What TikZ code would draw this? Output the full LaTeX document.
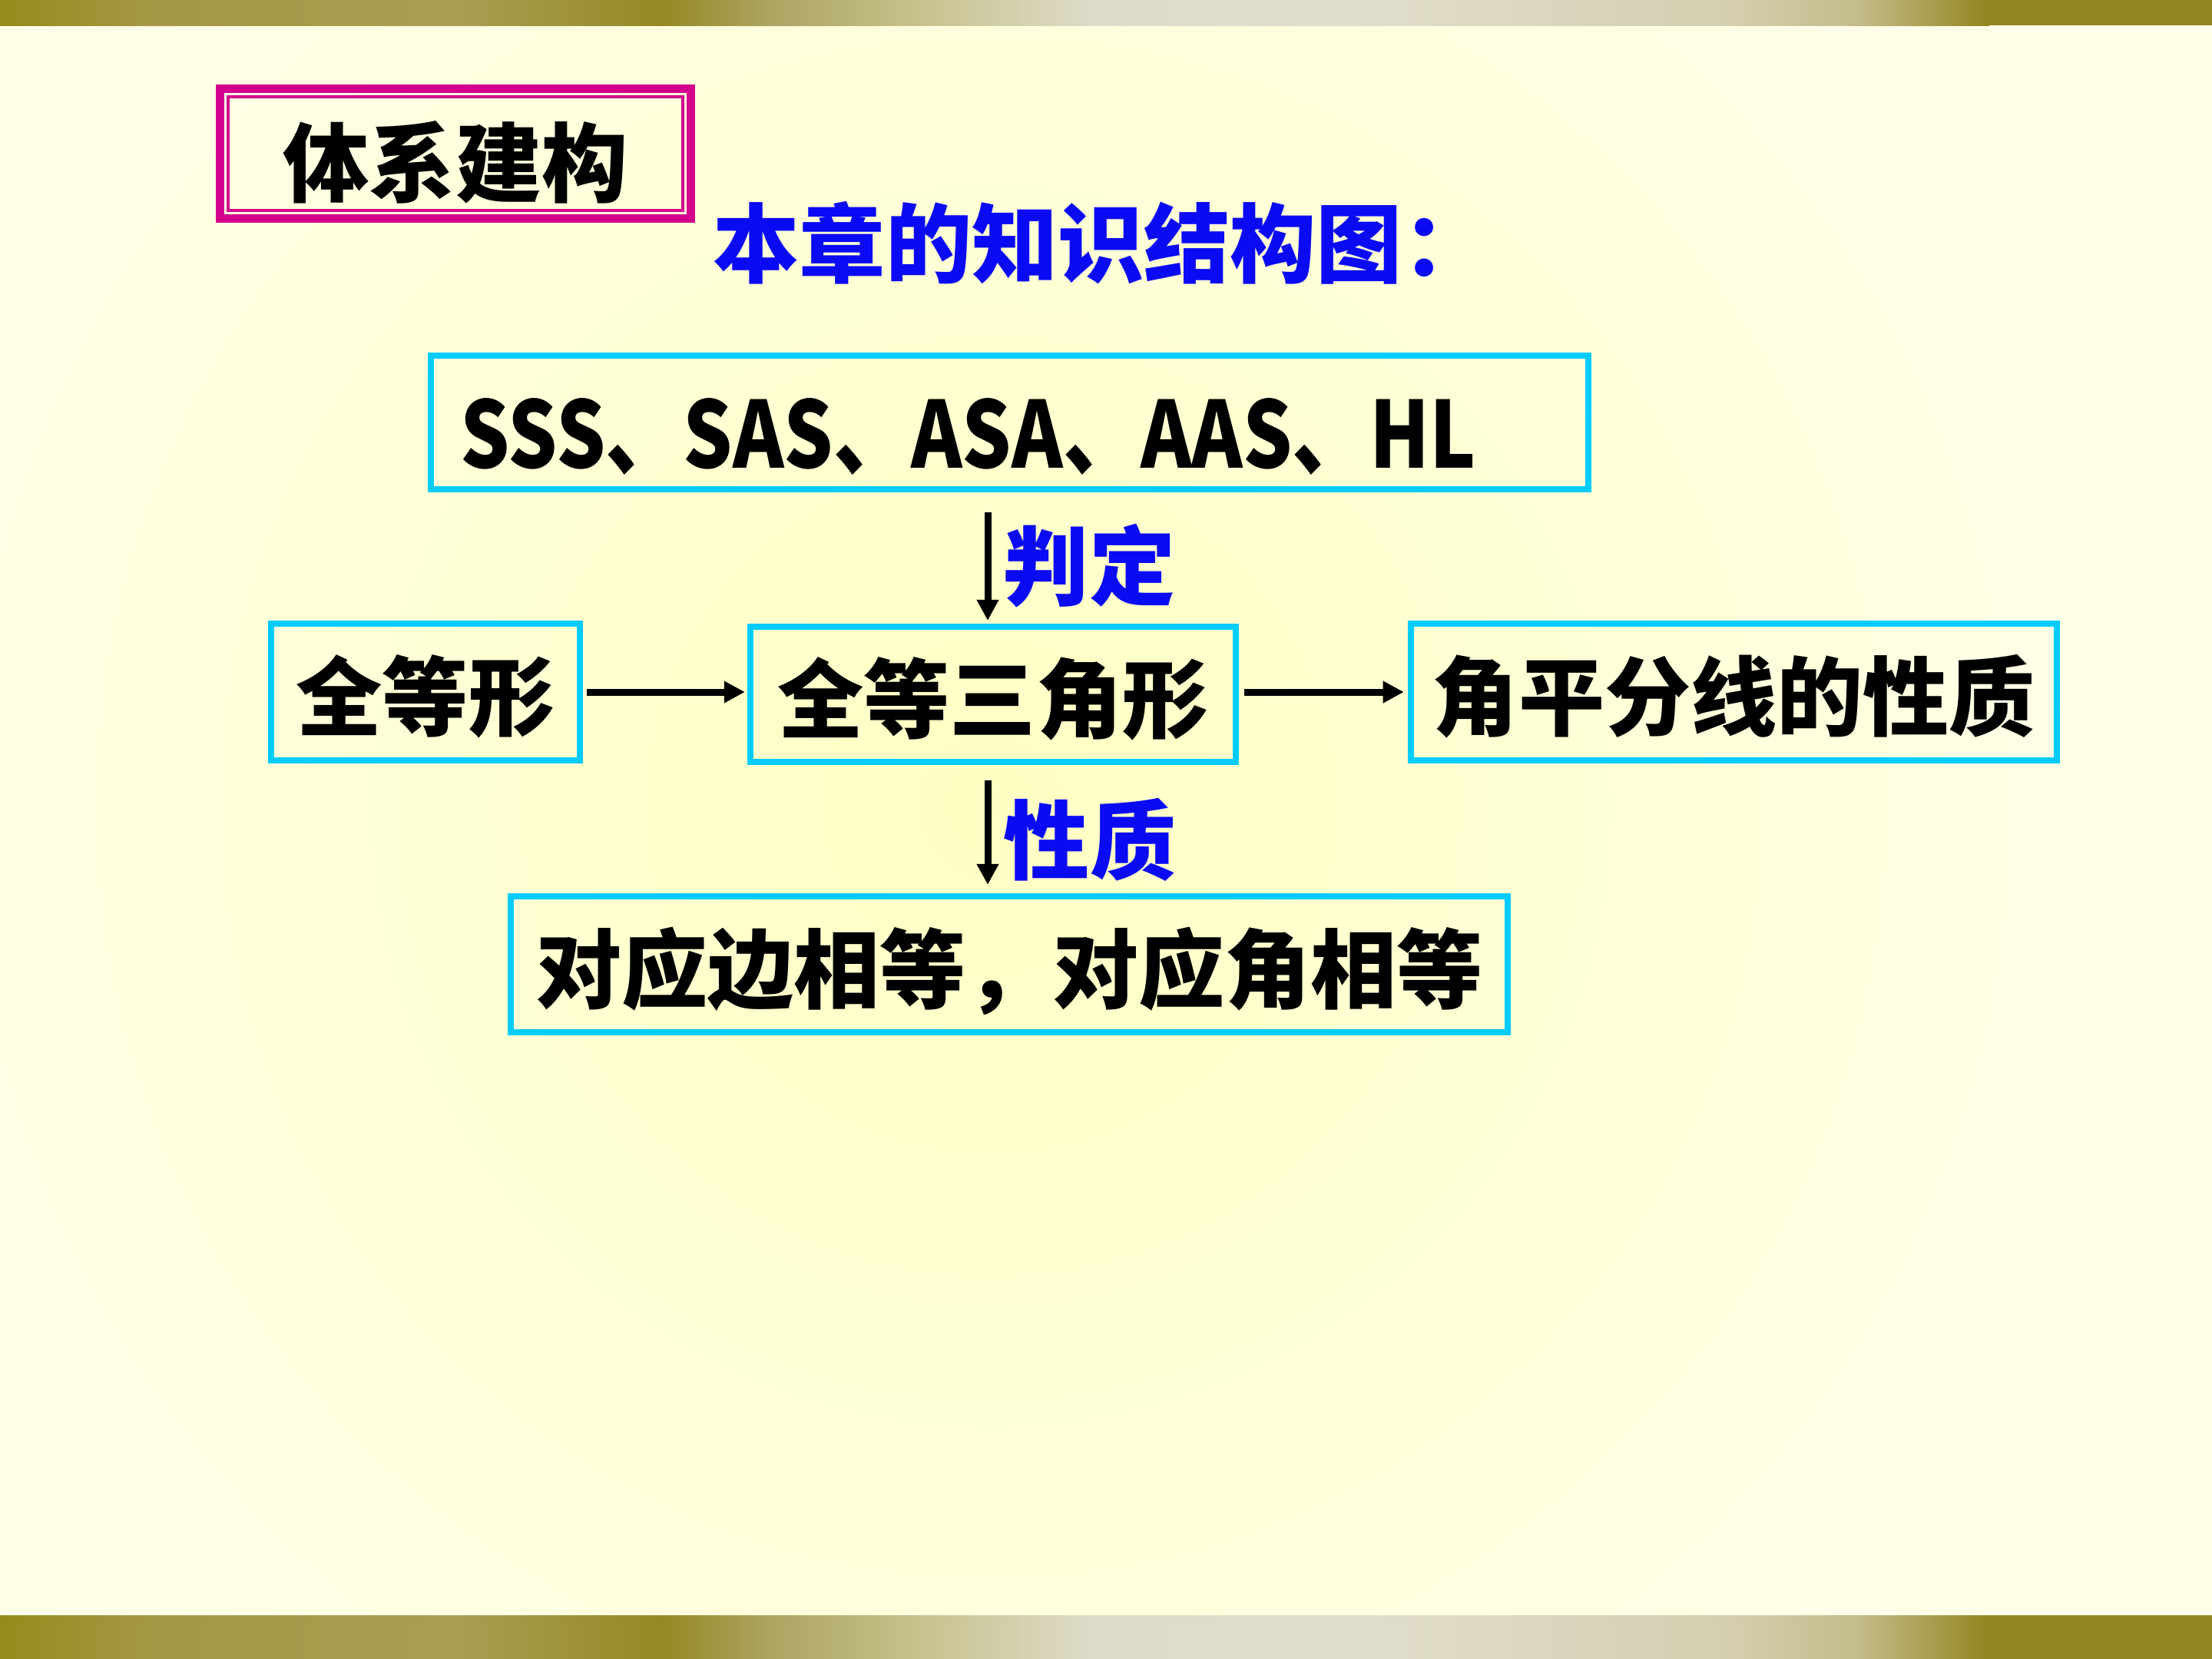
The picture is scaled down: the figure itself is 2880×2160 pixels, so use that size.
\documentclass[tikz,border=0pt]{standalone}
\usepackage{fontspec}
\usepackage{graphicx}
\setmainfont{Noto Sans CJK SC}
\usetikzlibrary{arrows.meta,calc}
\definecolor{bgout}{RGB}{255,255,233}
\definecolor{bgin}{RGB}{255,255,195}
\definecolor{boxcyan}{RGB}{0,204,255}
\definecolor{titlemag}{RGB}{210,0,140}
\definecolor{labblue}{RGB}{10,10,245}
\definecolor{ca}{RGB}{150,138,28}
\definecolor{cb}{RGB}{165,152,70}
\definecolor{cc}{RGB}{168,158,82}
\definecolor{cd}{RGB}{150,136,36}
\definecolor{ce}{RGB}{172,164,96}
\definecolor{cf}{RGB}{200,194,142}
\definecolor{cg}{RGB}{221,219,200}
\definecolor{ch}{RGB}{225,222,205}
\definecolor{ci}{RGB}{213,207,176}
\definecolor{cj}{RGB}{196,188,138}
\definecolor{ck}{RGB}{147,133,32}
\newcommand\bigcjk{\fontsize{31.9pt}{38pt}\selectfont\bfseries}
\newcommand\lowerby[2]{\raisebox{-#1}[\height][\depth]{#2}}
\begin{document}
\begin{tikzpicture}[x=0.01cm,y=-0.01cm,
  cbox/.style={draw=boxcyan, line width=0.08cm, inner sep=0pt, font=\bigcjk, text=black},
  lab/.style={inner sep=0pt, font=\bigcjk, text=labblue},
  arr/.style={draw=black, line width=0.09cm, -{Triangle[length=0.27cm,width=0.27cm]}}]
\fill[bgout] (0,0) rectangle (2880,2160);
\begin{scope}
\clip (0,0) rectangle (2880,2160);
\shade[inner color=bgin, outer color=bgout] (-210,-450) rectangle (2790,2550);
\end{scope}
\useasboundingbox (0,0) rectangle (2880,2160);
\foreach \ya/\yb in {0/33, 2103/2160} {
  \shade[left color=ca, right color=cb] (0,\ya) rectangle (200,\yb);
  \shade[left color=cb, right color=cc] (199,\ya) rectangle (600,\yb);
  \shade[left color=cc, right color=cd] (599,\ya) rectangle (863,\yb);
  \shade[left color=cd, right color=ce] (862,\ya) rectangle (1000,\yb);
  \shade[left color=ce, right color=cf] (999,\ya) rectangle (1200,\yb);
  \shade[left color=cf, right color=cg] (1199,\ya) rectangle (1420,\yb);
  \shade[left color=cg, right color=ch] (1419,\ya) rectangle (1750,\yb);
  \shade[left color=ch, right color=ci] (1749,\ya) rectangle (2250,\yb);
  \shade[left color=ci, right color=cj] (2249,\ya) rectangle (2420,\yb);
  \shade[left color=cj, right color=ck] (2419,\ya) rectangle (2590,\yb);
  \fill[ck] (2589,\ya) rectangle (2880,\yb);
}
% title box
\node[draw=titlemag, line width=0.11cm, inner sep=0pt, minimum width=6.13cm, minimum height=1.69cm, font=\bigcjk] (tt) at (593,200) {\lowerby{0.11cm}{体系建构}};
\draw[titlemag, line width=0.04cm] ([shift={(0.16cm,0.16cm)}]tt.south west) rectangle ([shift={(-0.16cm,-0.16cm)}]tt.north east);
\node[lab, anchor=west] (head) at (928,316) {本章的知识结构图：};
% boxes
\node[cbox, minimum height=1.74cm, text width=14.29cm, inner xsep=0.39cm, align=left] (sss) at (1314.5,550) {\lowerby{0.19cm}{\scalebox{0.9}[1.07]{SSS、SAS、ASA、AAS、HL}}};
\node[cbox, minimum width=4.02cm, minimum height=1.78cm] (quan) at (554,901) {\lowerby{0.06cm}{全等形}};
\node[cbox, minimum width=6.32cm, minimum height=1.76cm] (tri) at (1293,904) {\lowerby{0.06cm}{全等三角形}};
\node[cbox, minimum width=8.41cm, minimum height=1.78cm] (jiao) at (2257.5,901) {\lowerby{0.06cm}{角平分线的性质}};
\node[cbox, minimum width=12.98cm, minimum height=1.77cm] (prop) at (1314,1255.5) {\lowerby{0.09cm}{对应边相等，对应角相等}};
% labels
\node[lab] (pd) at (1418,737) {判定};
\node[lab] (xz) at (1419,1093) {性质};
% arrows
\draw[arr, shorten <=0.26cm, shorten >=0.04cm] ([xshift=-0.07cm]tri.north |- sss.south) -- ([xshift=-0.07cm]tri.north);
\draw[arr, shorten <=0.20cm, shorten >=0.11cm] ([xshift=-0.07cm]tri.south) -- ([xshift=-0.07cm]tri.south |- prop.north);
\draw[arr, shorten <=0.05cm, shorten >=0.03cm] (quan.east) -- (quan.east -| tri.west);
\draw[arr, shorten <=0.07cm, shorten >=0.05cm] (tri.east |- quan.east) -- (quan.east -| jiao.west);
\end{tikzpicture}
\end{document}
